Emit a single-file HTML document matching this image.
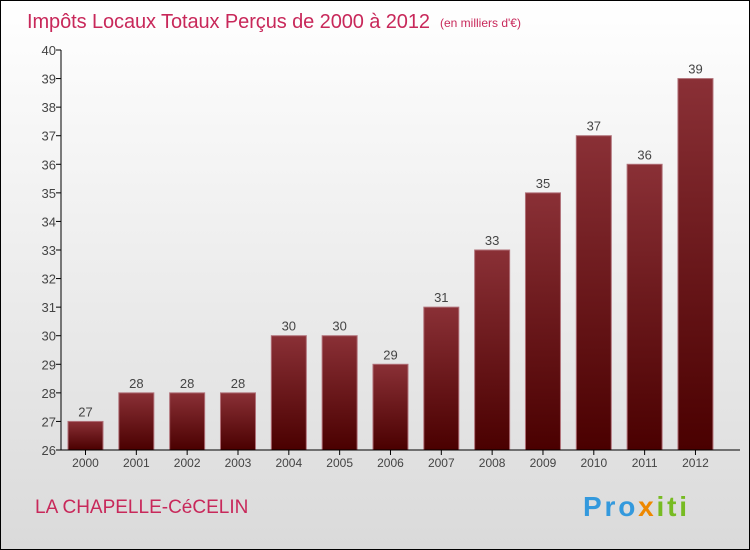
<!DOCTYPE html>
<html><head><meta charset="utf-8"><style>
body{margin:0;width:750px;height:550px;overflow:hidden;font-family:"Liberation Sans",sans-serif}
svg{display:block}
</style></head><body>
<svg id="c" width="750" height="550" xmlns="http://www.w3.org/2000/svg">
<defs>
<linearGradient id="bg" x1="0" y1="0" x2="0" y2="1"><stop offset="0" stop-color="#ffffff"/><stop offset="1" stop-color="#dadada"/></linearGradient>
<linearGradient id="bar" x1="0" y1="0" x2="0" y2="1"><stop offset="0" stop-color="#8a3036"/><stop offset="1" stop-color="#4a0000"/></linearGradient>
</defs>
<rect x="0.5" y="0.5" width="749" height="549" fill="url(#bg)" stroke="#000"/>
<text x="27" y="28" font-size="20" fill="#c8285a" textLength="403">Impôts Locaux Totaux Perçus de 2000 à 2012</text>
<text x="440" y="27" font-size="12" fill="#c8285a">(en milliers d'€)</text>
<g id="plot"></g>
<text x="35" y="513" font-size="19" fill="#c8285a">LA CHAPELLE-CéCELIN</text>
<text x="583" y="516" font-size="28" font-weight="bold" textLength="104"><tspan fill="#3399dd">Pro</tspan><tspan fill="#ee8800">x</tspan><tspan fill="#77bb22">iti</tspan></text>
</svg>
<script>
const years=["2000","2001","2002","2003","2004","2005","2006","2007","2008","2009","2010","2011","2012"];
const values=[27,28,28,28,30,30,29,31,33,35,37,36,39];
const yTicks=[26,27,28,29,30,31,32,33,34,35,36,37,38,39,40];
const NS="http://www.w3.org/2000/svg";
const g=document.getElementById("plot");
const y0=450,y1=50,vmin=26,vmax=40,x0=61,pitch=50.83,bw=35;
const y=v=>y0-(v-vmin)*(y0-y1)/(vmax-vmin);
const x=i=>x0+7+i*pitch;
function mk(t,a){const e=document.createElementNS(NS,t);for(const k in a)e.setAttribute(k,a[k]);g.appendChild(e);return e;}
yTicks.forEach(v=>{
 const l=mk("line",{x1:56,x2:61,y1:y(v),y2:y(v),stroke:"#000"});
 
 
 const t=mk("text",{x:56,y:y(v)+5,"text-anchor":"end","font-size":13,fill:"#444"});t.textContent=v;
 
 
});
values.forEach((v,i)=>{
 const r=mk("rect",{x:x(i),y:y(v),width:bw,height:y0-y(v),fill:"url(#bar)",stroke:"#b07078","stroke-width":1});
 
 
 const t=mk("text",{x:x(i)+bw/2,y:y(v)-5,"text-anchor":"middle","font-size":13,fill:"#444"});t.textContent=v;
 
 
 const tk=mk("line",{x1:x(i)+bw/2,x2:x(i)+bw/2,y1:450,y2:455,stroke:"#000"});
 
 
 const xl=mk("text",{x:x(i)+bw/2,y:467,"text-anchor":"middle","font-size":12,fill:"#444"});xl.textContent=years[i];
 
 
});
const ya=mk("line",{x1:61,x2:61,y1:50,y2:450,stroke:"#000"});


const xa=mk("line",{x1:61,x2:740,y1:450,y2:450,stroke:"#000"});


</script>
</body></html>
